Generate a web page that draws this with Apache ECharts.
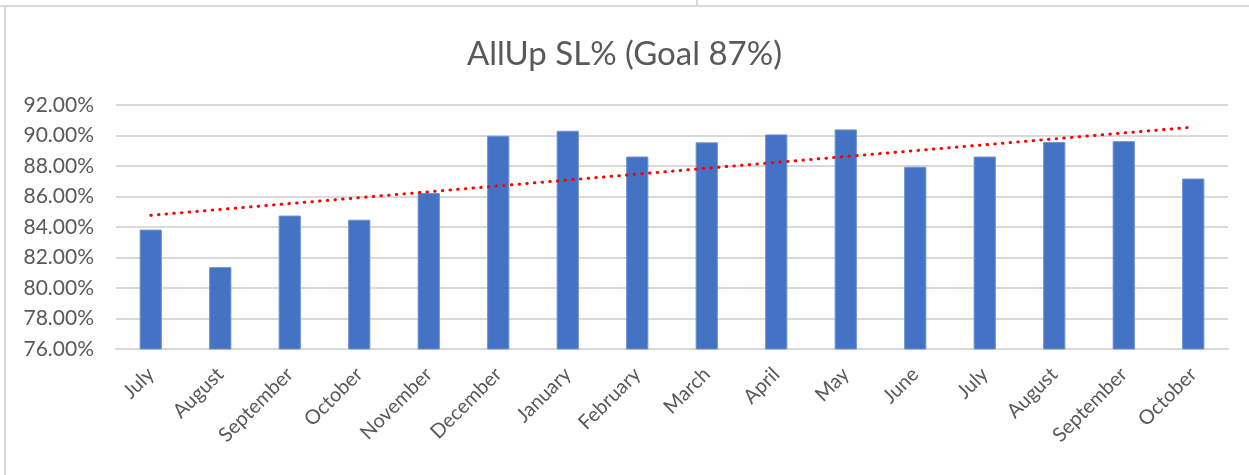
<!DOCTYPE html>
<html>
<head>
<meta charset="utf-8">
<style>
  html, body { margin: 0; padding: 0; background: #ffffff; }
  #chart { width: 1249px; height: 475px; }
</style>
<script src="https://cdn.jsdelivr.net/npm/echarts@6/dist/echarts.min.js"></script>
</head>
<body>
<div id="chart"></div>
<script>
// Monthly AllUp service level, percent
const months = ['July', 'August', 'September', 'October', 'November', 'December',
  'January', 'February', 'March', 'April', 'May', 'June',
  'July', 'August', 'September', 'October'];
const slValues = [83.83, 81.37, 84.75, 84.48, 86.23, 89.98, 90.31, 88.62,
  89.55, 90.07, 90.40, 87.95, 88.62, 89.57, 89.63, 87.18];
const yTicks = [76, 78, 80, 82, 84, 86, 88, 90, 92];

// Least-squares linear trend over the category index
function linearTrend(vals) {
  const n = vals.length;
  let sx = 0, sy = 0, sxy = 0, sxx = 0;
  vals.forEach((v, i) => { sx += i; sy += v; sxy += i * v; sxx += i * i; });
  const slope = (n * sxy - sx * sy) / (n * sxx - sx * sx);
  const icpt = (sy - slope * sx) / n;
  return vals.map((_, i) => +(icpt + slope * i).toFixed(3));
}
const trend = linearTrend(slValues);

const chart = echarts.init(document.getElementById('chart'), null, { renderer: 'canvas' });
const gray = '#595959';
const font = 'Lato, "Open Sans", sans-serif';

chart.setOption({
  animation: false,
  backgroundColor: '#ffffff',
  title: {
    text: 'AllUp SL% (Goal 87%)',
    left: 'center',
    top: 33,
    textStyle: { fontFamily: font, fontSize: 33, fontWeight: 'normal', color: gray }
  },
  graphic: [
    { type: 'line', shape: { x1: 0, y1: 6, x2: 1249, y2: 6 }, style: { stroke: '#d9d9d9', lineWidth: 2 } },
    { type: 'line', shape: { x1: 5, y1: 6, x2: 5, y2: 475 }, style: { stroke: '#d9d9d9', lineWidth: 2 } },
    { type: 'line', shape: { x1: 697, y1: 0, x2: 697, y2: 6 }, style: { stroke: '#d9d9d9', lineWidth: 2 } }
  ],
  grid: { left: 116, right: 21, top: 105, bottom: 126, containLabel: false },
  xAxis: {
    type: 'category',
    data: months,
    axisLine: { show: true, lineStyle: { color: '#d9d9d9', width: 2 } },
    axisTick: { show: false },
    axisLabel: {
      rotate: 45,
      margin: 22,
      interval: 0,
      fontFamily: font,
      fontSize: 20,
      color: gray
    }
  },
  yAxis: {
    type: 'value',
    min: yTicks[0],
    max: yTicks[yTicks.length - 1],
    interval: 2,
    axisLine: { show: false },
    axisTick: { show: false },
    splitLine: { lineStyle: { color: '#d9d9d9', width: 2 } },
    axisLabel: {
      margin: 22,
      fontFamily: font,
      fontSize: 21,
      color: gray,
      formatter: v => v.toFixed(2) + '%'
    }
  },
  series: [
    {
      type: 'bar',
      data: slValues,
      barWidth: '32%',
      itemStyle: { color: '#4472c4', borderColor: '#6f93d3', borderWidth: 1 }
    },
    {
      type: 'line',
      data: trend,
      symbol: 'none',
      z: 5,
      lineStyle: { color: '#ff0000', width: 3, type: [0.5, 7.2], cap: 'round' }
    }
  ]
});
</script>
</body>
</html>
